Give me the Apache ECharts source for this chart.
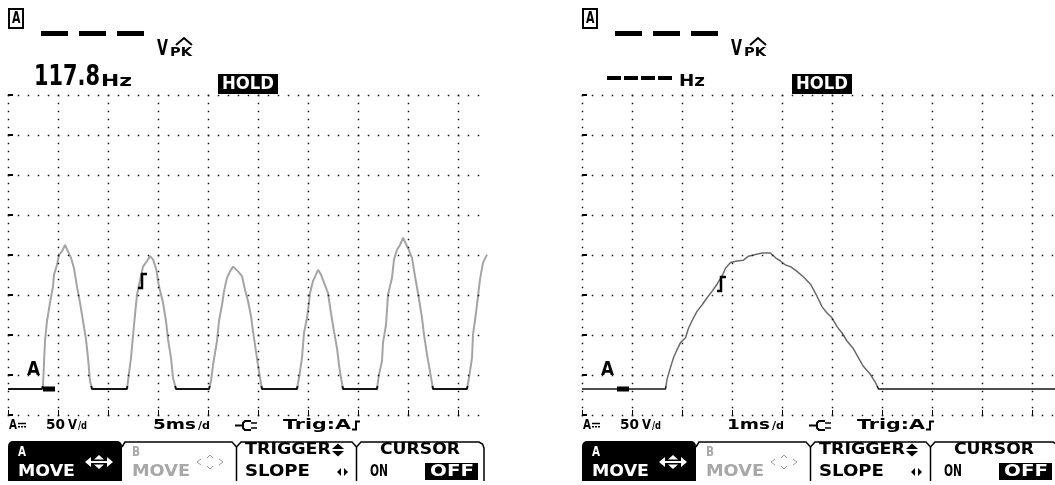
<!DOCTYPE html>
<html><head><meta charset="utf-8">
<script src="https://cdn.jsdelivr.net/npm/echarts@6/dist/echarts.min.js"></script>
<style>html,body{margin:0;padding:0;background:#fff}#c{width:1055px;height:485px}</style>
</head><body><div id="c"></div>
<script>
// ---------- data (time in ms, voltage in V) ----------
const leftTimeMs = [0,3.4,3.5,3.7,3.9,4.2,4.5,4.6,4.9,5.1,5.4,5.7,5.9,6.0,6.3,6.6,6.9,7.2,7.5,7.8,8.0,8.2,8.4,
  11.9,12.0,12.3,12.5,12.7,12.9,13.1,13.5,13.9,14.2,14.5,14.8,15.1,15.5,15.8,16.0,16.3,16.5,16.8,
  20.1,20.3,20.5,20.9,21.1,21.4,21.6,21.9,22.2,22.5,22.7,23.0,23.4,23.7,24.0,24.3,24.5,24.8,25.0,25.2,25.4,
  28.9,29.1,29.4,29.6,29.9,30.1,30.2,30.5,30.8,31.0,31.3,31.6,32.0,32.3,32.6,32.9,33.1,33.3,33.5,
  36.9,37.1,37.4,37.5,37.8,38.0,38.4,38.6,38.9,39.2,39.5,39.7,40.0,40.4,40.7,41.0,41.4,41.6,41.9,42.2,42.5,
  45.9,46.1,46.4,46.5,46.8,47.0,47.2,47.5,47.9];
const leftVolts = [0,0,5,60,85,108,128,143,155,168,172,180,180,172,164,151,128,108,85,62,39,10,0,
  0,10,39,66,93,118,130,153,160,166,162,151,128,108,85,62,39,14,0,
  0,10,30,60,85,105,122,139,147,153,155,147,141,124,110,91,72,47,30,14,0,
  0,14,39,70,89,108,120,135,143,149,143,133,120,95,72,51,30,14,0,
  0,18,35,58,80,118,139,162,174,180,189,187,176,164,141,120,89,68,43,22,0,
  0,14,39,68,95,116,137,158,168];
const rightTimeMs = [0,1.67,1.70,1.77,1.83,1.90,1.97,2.07,2.13,2.23,2.30,2.40,2.50,2.60,2.70,2.80,2.87,2.97,
  3.10,3.23,3.33,3.47,3.60,3.77,3.87,3.97,4.07,4.17,4.30,4.43,4.57,4.70,4.80,4.90,5.00,5.10,5.20,5.30,
  5.42,5.53,5.63,5.77,5.87,5.93,9.46];
const rightVolts = [0,0,12,27,39,49,58,64,76,89,97,105,114,122,131,141,151,158,
  160,161,166,168,170,170,164,160,155,153,147,140,131,116,103,95,89,78,70,60,
  51,39,28,18,8,0,0];
const triggerPoint = [[13.4, 135], [2.77, 131]]; // [ms, V] where the trigger symbol sits on each trace
const leftDivTicks = [0, 5, 10, 15, 20, 25, 30, 35, 40, 45];
const rightDivTicks = [0, 1, 2, 3, 4, 5, 6, 7, 8, 9];
const panelFreq = ['117.8', '----'];
const panelTimebase = ['5ms', '1ms'];
const voltsPerDiv = '50';
const softkeyTop = ['A', 'B', 'TRIGGER', 'CURSOR'];
const softkeyBottom = ['MOVE', 'MOVE', 'SLOPE', 'ON', 'OFF'];

// ---------- layout ----------
const GRID_TOP = 95, GRID_H = 320, Y_MIN = -32.5, Y_MAX = 367.5, Y_DIV = 50;
const vToPx = v => GRID_TOP + GRID_H * (Y_MAX - v) / (Y_MAX - Y_MIN);

const chart = echarts.init(document.getElementById('c'), null, {renderer: 'canvas'});
const FONT = '"DejaVu Sans", "Liberation Sans", sans-serif';
const mctx = document.createElement('canvas').getContext('2d');
function txt(s, x, top, w, cap, fill) {
  const fs = cap / 0.73;
  const font = 'bold ' + fs.toFixed(2) + 'px ' + FONT;
  mctx.font = font;
  const mw = mctx.measureText(s).width || 1;
  return {type: 'text', x: x, y: top + cap / 2, scaleX: w / mw, z: 60,
    style: {text: s, font: font, fill: fill || '#000', align: 'left', verticalAlign: 'middle'}};
}
function xAx(gi, max, interval, ticks) {
  return {type: 'value', gridIndex: gi, min: 0, max: max, interval: interval,
    axisLine: {show: false, onZero: false}, axisLabel: {show: false},
    axisTick: {show: true, inside: true, length: 5, customValues: ticks, lineStyle: {color: '#000', width: 1}},
    splitLine: {show: false}};
}
function yAx(gi) {
  return {type: 'value', gridIndex: gi, min: Y_MIN, max: Y_MAX, interval: Y_DIV,
    axisLine: {show: false, onZero: false}, axisLabel: {show: false},
    axisTick: {show: true, inside: true, length: 5, lineStyle: {color: '#000', width: 2}},
    splitLine: {show: false}};
}
// dotted graticule: 5 dots per division along each grid line, placed through the axis scales
function graticule(gi, xMax, xDiv) {
  return {type: 'custom', xAxisIndex: gi, yAxisIndex: gi, silent: true, z: 100, zlevel: 1, clip: false,
    data: [[0, 0]],
    renderItem: function (params, api) {
      const kids = [];
      const dot = p => kids.push({type: 'rect', shape: {x: Math.round(p[0]) - 0.25, y: Math.round(p[1]) - 0.25, width: 1.5, height: 1.5}, style: {fill: '#111'}});
      for (let v = Y_MIN; v <= Y_MAX + 1e-6; v += Y_DIV) {
        for (let k = 0; k * xDiv / 5 < xMax - 1e-6; k++) dot(api.coord([k * xDiv / 5, v]));
      }
      for (let k = 0; k * xDiv < xMax - 1e-6; k++) {
        for (let j = 0; Y_MIN + j * Y_DIV / 5 <= Y_MAX + 1e-6; j++) dot(api.coord([k * xDiv, Y_MIN + j * Y_DIV / 5]));
      }
      return {type: 'group', children: kids};
    }};
}
// trigger (rising-edge) symbol drawn at the trigger point through the axis scales
function trigMark(gi, pt) {
  return {type: 'custom', xAxisIndex: gi, yAxisIndex: gi, silent: true, z: 100, zlevel: 1, clip: false,
    data: [pt],
    renderItem: function (params, api) {
      const p = api.coord([api.value(0), api.value(1)]);
      const x = Math.round(p[0]), y = Math.round(p[1]);
      return {type: 'polyline', shape: {points: [[x - 4, y + 7], [x, y + 7], [x, y - 7], [x + 5, y - 7]]},
        style: {stroke: '#000', lineWidth: 2.5, fill: null}};
    }};
}
const zip = (a, b) => a.map((t, i) => [t, b[i]]);
function traceGradient(upper) {
  return new echarts.graphic.LinearGradient(0, vToPx(4), 0, vToPx(0), [
    {offset: 0, color: upper}, {offset: 0.02, color: '#151515'}, {offset: 1, color: '#151515'}], true);
}

function panel(dx, freq, tb) {
  const g = [];
  const gy = vToPx(0);
  const R = (x, y, w, h, fill) => g.push({type: 'rect', z: 50, shape: {x: x + dx, y: y, width: w, height: h}, style: {fill: fill || '#000'}});
  const T = (s, x, top, w, cap, fill) => g.push(txt(s, x + dx, top, w, cap, fill));
  const L = (pts, lw, stroke) => g.push({type: 'polyline', z: 50, shape: {points: pts.map(p => [p[0] + dx, p[1]])},
    style: {stroke: stroke || '#000', lineWidth: lw, fill: null}});
  const PG = (pts, fill) => g.push({type: 'polygon', z: 55, shape: {points: pts.map(p => [p[0] + dx, p[1]])}, style: {fill: fill}});
  // header
  g.push({type: 'rect', z: 50, shape: {x: 9 + dx, y: 9, width: 14, height: 19}, style: {fill: 'none', stroke: '#000', lineWidth: 2}});
  T('A', 12, 12.5, 8.5, 12);
  R(41, 31, 27, 5); R(79, 31, 27, 5); R(117, 31, 27, 5);
  T('V', 157, 42, 11, 15);
  L([[176, 45], [184, 38], [192, 45]], 2);
  T('PK', 170, 48, 22, 9);
  if (freq === '----') {
    for (let i = 0; i < 4; i++) R(33 + i * 17, 76, 14, 4);
    T('Hz', 105, 77, 26, 11);
  } else {
    T(freq, 34, 67, 66, 21);
    T('Hz', 101, 77, 31, 11);
  }
  R(218, 74, 60, 20);
  T('HOLD', 222, 77.5, 52, 13, '#fff');
  // ground marker
  R(26, gy - 27, 15, 17, '#fff');
  T('A', 27, gy - 26, 13, 14);
  R(43, gy - 2.5, 12, 5);
  // status line
  T('A', 9, 420.5, 8, 10);
  L([[18, 423.5], [26, 423.5]], 1.5);
  R(18, 426, 2, 1.5); R(21, 426, 2, 1.5); R(24, 426, 2, 1.5);
  T(voltsPerDiv, 46, 420.5, 19, 10);
  T('V', 68, 420.5, 9, 10);
  T('/d', 78, 423, 9, 7.5);
  T(tb, 153, 420.5, 43, 10);
  T('/d', 198, 423, 12, 7.5);
  L([[235, 425.5], [242, 425.5]], 2);
  L([[251, 421], [245, 421], [243, 423], [243, 428], [245, 430], [251, 430]], 2);
  L([[251, 423], [257, 423]], 1.5); L([[251, 428], [257, 428]], 1.5);
  T('Trig:A', 283, 420.5, 68, 10);
  L([[352, 429.5], [356, 429.5], [356, 421.5], [360, 421.5]], 2);
  // soft keys
  g.push({type: 'rect', z: 50, shape: {x: 8 + dx, y: 441, width: 114, height: 40, r: [5, 5, 0, 0]}, style: {fill: '#000'}});
  T(softkeyTop[0], 18, 447, 8, 10, '#fff');
  T(softkeyBottom[0], 18, 466, 57, 12, '#fff');
  PG([[85, 462], [91, 457], [91, 467]], '#fff');
  PG([[113, 462], [107, 457], [107, 467]], '#fff');
  PG([[94, 459.5], [99, 455], [104, 459.5]], '#fff');
  PG([[94, 464.5], [99, 469], [104, 464.5]], '#fff');
  R(91, 461, 16, 2, '#fff');
  T(softkeyTop[1], 132, 447, 8, 10, '#a8a8a8');
  T(softkeyBottom[1], 132, 466, 58, 12, '#a8a8a8');
  L([[201, 459], [197, 462], [201, 465]], 1, '#999');
  L([[219, 459], [223, 462], [219, 465]], 1, '#999');
  L([[207, 458], [210, 455], [213, 458]], 1, '#999');
  L([[207, 466], [210, 469], [213, 466]], 1, '#999');
  L([[122, 447], [125, 442], [232, 442], [236.5, 447], [241, 442], [352, 442], [356.5, 447], [361, 442],
     [479, 442], [482.5, 444], [484, 448], [484, 481]], 1.5);
  L([[236.5, 447], [236.5, 481]], 1.5);
  L([[356.5, 447], [356.5, 481]], 1.5);
  T(softkeyTop[2], 245, 443.5, 86, 12);
  PG([[332, 449], [338, 443.5], [344, 449]], '#000');
  PG([[332, 451], [338, 456.5], [344, 451]], '#000');
  T(softkeyBottom[2], 245, 466, 65, 12);
  PG([[337, 472], [341, 468], [341, 476]], '#000');
  PG([[348, 472], [344, 468], [344, 476]], '#000');
  T(softkeyTop[3], 380, 443.5, 80, 12);
  T(softkeyBottom[3], 370, 466, 18, 12);
  R(425, 463, 53, 17);
  T(softkeyBottom[4], 430, 466, 44, 12, '#fff');
  return g;
}

chart.setOption({
  animation: false,
  backgroundColor: '#fff',
  grid: [
    {left: 8, top: GRID_TOP, width: 480, height: GRID_H},
    {left: 582, top: GRID_TOP, width: 473, height: GRID_H}
  ],
  xAxis: [xAx(0, 48, 5, leftDivTicks), xAx(1, 9.46, 1, rightDivTicks)],
  yAxis: [yAx(0), yAx(1)],
  series: [
    graticule(0, 48, 5),
    graticule(1, 9.46, 1),
    {type: 'line', xAxisIndex: 0, yAxisIndex: 0, data: zip(leftTimeMs, leftVolts),
      showSymbol: false, lineStyle: {width: 2, color: traceGradient('#a4a4a4')}, z: 5},
    {type: 'line', xAxisIndex: 1, yAxisIndex: 1, data: zip(rightTimeMs, rightVolts),
      showSymbol: false, lineStyle: {width: 1.5, color: traceGradient('#6a6a6a')}, z: 5},
    trigMark(0, triggerPoint[0]),
    trigMark(1, triggerPoint[1])
  ],
  graphic: {elements: panel(0, panelFreq[0], panelTimebase[0]).concat(panel(574, panelFreq[1], panelTimebase[1]))}
});
</script></body></html>
